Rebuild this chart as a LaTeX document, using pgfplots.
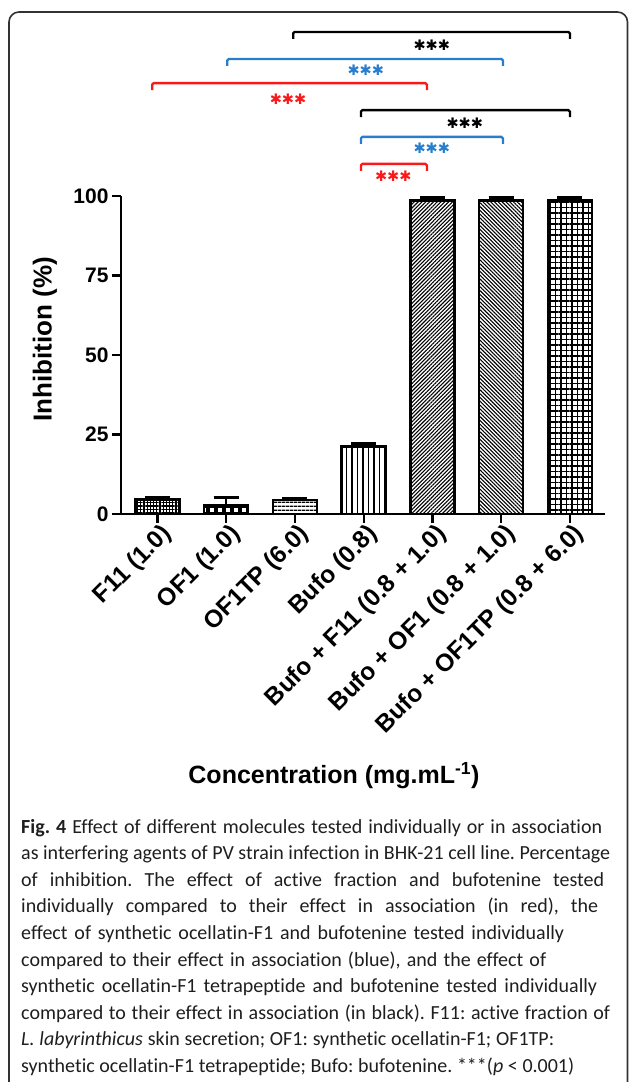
\documentclass[border=0pt]{standalone}
\usepackage{fontspec}
\setmainfont{Liberation Sans}
\newfontfamily\capfont[Ligatures=NoCommon]{Carlito}
\newfontfamily\djv{DejaVu Sans}
\usepackage{pgfplots}
\pgfplotsset{compat=1.18}
\usetikzlibrary{patterns.meta}
\definecolor{sigred}{RGB}{250,25,25}
\definecolor{sigblue}{RGB}{40,125,205}
\definecolor{boxgray}{RGB}{50,50,50}
\definecolor{capcol}{RGB}{30,30,30}
\pgfplotsset{mybar/.style={ybar, bar width=0.64, bar shift=0pt, draw=black, line width=2.6pt, pattern color=black,
  error bars/.cd, y dir=plus, y explicit,
  error bar style={line width=2.6pt, solid, black},
  error mark options={rotate=90, mark size=12.5pt, line width=2.6pt, black}}}
\newcommand{\capline}[3]{\node at (21,#1) {\makebox[#2pt][s]{#3}};}
\begin{document}
\frenchspacing
\begin{tikzpicture}
\useasboundingbox (0,0) rectangle (629pt,-1082pt);
\begin{scope}[x=1pt,y=-1pt]
\draw[boxgray, line width=1.6pt, rounded corners=10pt] (9,1100) -- (9,12) -- (627.5,12) -- (627.5,1100);
\end{scope}
\begin{axis}[
  at={(121pt,-514pt)}, anchor=south west,
  scale only axis, width=484pt, height=318pt,
  xmin=-0.53, xmax=6.51, ymin=0, ymax=100,
  clip=false,
  axis x line=bottom, axis y line=left,
  axis line style={line width=2.4pt, -},
  xtick={0,1,2,3,4,5,6},
  xticklabels={F11 (1.0), OF1 (1.0), OF1TP (6.0), Bufo (0.8), Bufo + F11 (0.8 + 1.0), Bufo + OF1 (0.8 + 1.0), Bufo + OF1TP (0.8 + 6.0)},
  ytick={0,25,50,75,100},
  tick align=outside, major tick length=9pt,
  tick style={line width=2.2pt, black},
  /pgf/number format/assume math mode=true,
  xticklabel style={font=\bfseries\fontsize{24.5}{24.5}\selectfont, rotate=45, anchor=north east, inner sep=1pt, xshift=3pt},
  yticklabel style={font=\bfseries\fontsize{21}{21}\selectfont},
  ylabel={Inhibition (\%)},
  ylabel style={font=\bfseries\fontsize{26}{26}\selectfont, at={(axis description cs:-0.157,0.55)}, anchor=center},
  xlabel={Concentration (mg.mL\textsuperscript{-1})},
  xlabel style={font=\bfseries\fontsize{25}{25}\selectfont, at={(axis description cs:0.44,-0.824)}, anchor=center},
]
\addplot[pattern={Hatch[distance=3.2pt, line width=1.2pt]}, mybar] coordinates {(0,4.5) +- (0,0.6)};
\addplot[pattern={Hatch[distance=8pt, line width=3.5pt]}, mybar] coordinates {(1,2.6) +- (0,2.6)};
\addplot[pattern={Lines[angle=0, distance=4pt, line width=1.3pt]}, mybar] coordinates {(2,4.4) +- (0,0.6)};
\addplot[pattern={Lines[angle=90, distance=5.5pt, line width=1.5pt]}, mybar] coordinates {(3,21.3) +- (0,0.8)};
\addplot[pattern={Lines[angle=45, distance=2.7pt, line width=1.1pt]}, mybar] coordinates {(4,98.6) +- (0,1.0)};
\addplot[pattern={Lines[angle=-45, distance=2.7pt, line width=1.1pt]}, mybar] coordinates {(5,98.6) +- (0,1.0)};
\addplot[pattern={Hatch[distance=5.5pt, line width=1.7pt]}, mybar] coordinates {(6,98.6) +- (0,1.0)};
% significance brackets
\draw[black, line width=2.3pt, rounded corners=1.5pt] (axis cs:1.974,149.4) -- (axis cs:1.974,151.6) -- (axis cs:6.0,151.6) -- (axis cs:6.0,149.4);
\draw[sigblue, line width=2.3pt, rounded corners=1.5pt] (axis cs:1.015,140.9) -- (axis cs:1.015,143.1) -- (axis cs:5.026,143.1) -- (axis cs:5.026,140.9);
\draw[sigred, line width=2.3pt, rounded corners=1.5pt] (axis cs:-0.076,133.3) -- (axis cs:-0.076,135.5) -- (axis cs:3.92,135.5) -- (axis cs:3.92,133.3);
\draw[black, line width=2.3pt, rounded corners=1.5pt] (axis cs:2.96,124.8) -- (axis cs:2.96,127.0) -- (axis cs:6.0,127.0) -- (axis cs:6.0,124.8);
\draw[sigblue, line width=2.3pt, rounded corners=1.5pt] (axis cs:2.96,116.4) -- (axis cs:2.96,118.6) -- (axis cs:5.026,118.6) -- (axis cs:5.026,116.4);
\draw[sigred, line width=2.3pt, rounded corners=1.5pt] (axis cs:2.96,107.9) -- (axis cs:2.96,110.1) -- (axis cs:3.92,110.1) -- (axis cs:3.92,107.9);
\node[text=black, font=\djv\fontsize{14.5}{14.5}\selectfont] at (axis cs:3.99,147.5) {✱✱✱};
\node[text=sigblue, font=\djv\fontsize{14.5}{14.5}\selectfont] at (axis cs:3.03,139.6) {✱✱✱};
\node[text=sigred, font=\djv\fontsize{14.5}{14.5}\selectfont] at (axis cs:1.90,130.5) {✱✱✱};
\node[text=black, font=\djv\fontsize{14.5}{14.5}\selectfont] at (axis cs:4.47,123.0) {✱✱✱};
\node[text=sigblue, font=\djv\fontsize{14.5}{14.5}\selectfont] at (axis cs:3.99,115.1) {✱✱✱};
\node[text=sigred, font=\djv\fontsize{14.5}{14.5}\selectfont] at (axis cs:3.43,106.3) {✱✱✱};
\end{axis}
\begin{scope}[x=1pt,y=-1pt, every node/.style={anchor=base west, inner sep=0pt, font=\capfont\fontsize{20}{20}\selectfont, text=capcol}]
\capline{833.0}{581}{\textbf{Fig. 4} Effect of different molecules tested individually or in association}
\capline{859.6}{589}{as interfering agents of PV strain infection in BHK-21 cell line. Percentage}
\capline{886.2}{583}{of inhibition. The effect of active fraction and bufotenine tested}
\capline{912.8}{577}{individually compared to their effect in association (in red), the}
\capline{939.4}{543}{effect of synthetic ocellatin-F1 and bufotenine tested individually}
\capline{966.0}{525}{compared to their effect in association (blue), and the effect of}
\capline{992.6}{576}{synthetic ocellatin-F1 tetrapeptide and bufotenine tested individually}
\capline{1019.2}{589}{compared to their effect in association (in black). F11: active fraction of}
\capline{1045.8}{533}{\textit{L. labyrinthicus} skin secretion; OF1: synthetic ocellatin-F1; OF1TP:}
\capline{1072.4}{553}{synthetic ocellatin-F1 tetrapeptide; Bufo: bufotenine. ***(\textit{p} < 0.001)}
\end{scope}
\end{tikzpicture}
\end{document}
